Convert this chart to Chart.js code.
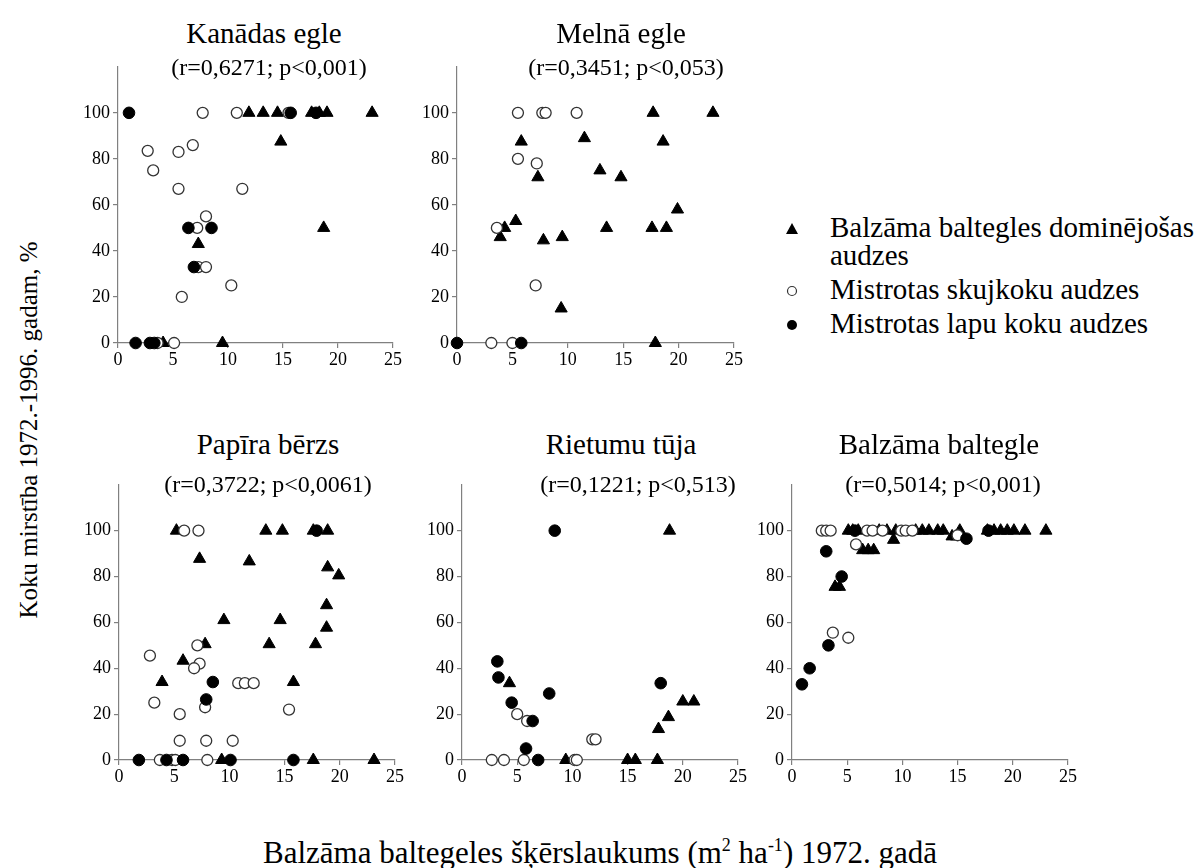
<!DOCTYPE html>
<html>
<head>
<meta charset="utf-8">
<script src="https://cdn.jsdelivr.net/npm/chart.js@4.4.0/dist/chart.umd.min.js"></script>
<style>
  body { margin: 0; background: #fff; }
  #wrap { position: relative; width: 1200px; height: 868px; overflow: hidden; font-family: 'Liberation Serif', 'Times New Roman', serif; color: #000; }
  canvas { position: absolute; }
  .txt { position: absolute; white-space: nowrap; transform: translate(-50%, -50%); line-height: 1; }
  .title { font-size: 29px; }
  .sub { font-size: 24px; }
  #legend { position: absolute; left: 780px; top: 213px; font-size: 29px; line-height: 28px; }
  #legend .row { position: relative; padding-left: 50px; margin-bottom: 6px; }
  #legend svg { position: absolute; left: 5px; top: 9px; }
</style>
</head>
<body>
<div id="wrap">
  <canvas id="c1"></canvas>
  <canvas id="c2"></canvas>
  <canvas id="c3"></canvas>
  <canvas id="c4"></canvas>
  <canvas id="c5"></canvas>

  <div class="txt title" style="left:264px; top:33px;">Kanādas egle</div>
  <div class="txt sub" style="left:269px; top:67px;">(r=0,6271; p&lt;0,001)</div>
  <div class="txt title" style="left:621px; top:33px;">Melnā egle</div>
  <div class="txt sub" style="left:626px; top:67px;">(r=0,3451; p&lt;0,053)</div>
  <div class="txt title" style="left:268px; top:444px;">Papīra bērzs</div>
  <div class="txt sub" style="left:268px; top:484px;">(r=0,3722; p&lt;0,0061)</div>
  <div class="txt title" style="left:621px; top:444px;">Rietumu tūja</div>
  <div class="txt sub" style="left:638px; top:484px;">(r=0,1221; p&lt;0,513)</div>
  <div class="txt title" style="left:939px; top:444px;">Balzāma baltegle</div>
  <div class="txt sub" style="left:943px; top:484px;">(r=0,5014; p&lt;0,001)</div>

  <div class="txt" style="left:28px; top:430px; font-size:25px; transform: translate(-50%, -50%) rotate(-90deg);">Koku mirstība 1972.-1996. gadam, %</div>
  <div class="txt" style="left:600px; top:852px; font-size:31px;">Balzāma baltegeles šķērslaukums (m<sup style="font-size:18px;">2</sup> ha<sup style="font-size:18px;">-1</sup>) 1972. gadā</div>

  <div id="legend">
    <div class="row"><svg width="14" height="14"><polygon points="7,1 13,12 1,12" fill="#000"/></svg>Balzāma baltegles dominējošas<br>audzes</div>
    <div class="row"><svg width="14" height="14"><circle cx="7" cy="7" r="4.5" fill="#fff" stroke="#333" stroke-width="1.2"/></svg>Mistrotas skujkoku audzes</div>
    <div class="row"><svg width="14" height="14"><circle cx="7" cy="7" r="5" fill="#000"/></svg>Mistrotas lapu koku audzes</div>
  </div>
</div>

<script>
// series names
const seriesNames = ['Balzāma baltegles dominējošas audzes', 'Mistrotas skujkoku audzes', 'Mistrotas lapu koku audzes'];

// axis ticks
const xTicks = [0, 5, 10, 15, 20, 25];
const yTicks = [0, 20, 40, 60, 80, 100];

// Kanādas egle
const kanTri = [[11.9,100],[13.2,100],[14.5,100],[14.8,87.5],[17.6,100],[18.3,100],[19.0,100],[23.1,100],[18.7,50],[7.3,43],[9.5,0],[4.1,0]];
const kanOpen = [[7.7,100],[10.8,100],[15.5,100],[2.7,83.5],[6.8,86],[5.5,83],[3.2,75],[5.5,67],[11.3,67],[8.0,55],[7.2,50],[7.3,33],[8.0,33],[10.3,25],[5.8,20],[5.1,0],[3.6,0]];
const kanFull = [[1.0,100],[1.6,0],[2.9,0],[3.3,0],[6.4,50],[8.5,50],[15.7,100],[18.0,100],[6.9,33]];

// Melnā egle
const melTri = [[17.7,100],[23.1,100],[5.8,87.5],[11.5,89],[18.6,87.5],[12.9,75],[14.8,72],[7.3,72],[19.9,58],[5.3,53],[4.3,50],[3.9,46],[7.8,44.6],[9.5,46],[13.5,50],[17.6,50],[18.9,50],[9.4,15],[17.9,0]];
const melOpen = [[5.5,100],[7.7,100],[8.0,100],[10.8,100],[5.5,80],[7.2,78],[3.6,50],[7.1,25],[3.1,0],[5.0,0]];
const melFull = [[0,0],[5.8,0]];

// Papīra bērzs
const papTri = [[5.2,100],[13.3,100],[14.8,100],[17.6,100],[18.9,100],[7.3,87.7],[11.8,86.6],[18.9,84],[19.9,80.5],[18.8,67.5],[9.5,61],[14.6,61],[18.8,57.7],[7.8,50.5],[13.6,50.5],[17.8,50.5],[5.8,43.3],[3.9,34],[15.8,34],[9.3,0],[17.6,0],[23.1,0]];
const papOpen = [[5.9,100],[7.2,100],[7.1,50],[7.3,42],[6.8,40],[2.8,45.5],[3.2,25],[5.5,20],[7.8,23],[10.8,33.5],[11.4,33.5],[12.2,33.5],[15.4,22],[5.5,8.4],[7.9,8.4],[10.3,8.4],[3.7,0],[4.8,0],[5.1,0],[8.0,0]];
const papFull = [[17.9,100],[1.8,0],[4.3,0],[5.8,0],[10.1,0],[15.8,0],[8.5,34],[7.9,26.4]];

// Rietumu tūja
const rieTri = [[18.8,100],[4.3,33.5],[9.4,0],[15.0,0],[15.7,0],[17.7,0],[17.8,13.5],[18.7,18.7],[20.0,25.5],[21.0,25.5]];
const rieOpen = [[5.0,20],[5.9,17],[11.8,9],[12.1,9],[2.7,0],[3.8,0],[5.6,0],[10.2,0],[10.4,0]];
const rieFull = [[8.4,100],[3.2,43],[3.3,36],[4.5,25],[7.9,29],[6.4,17],[5.8,5],[6.9,0],[18.0,33.5]];

// Balzāma baltegle
const balTri = [[3.9,75.5],[4.3,75.5],[6.4,91.5],[6.9,91.5],[7.4,91.5],[9.2,96],[14.5,97.5],[14.9,97.5],[5.1,100],[5.5,100],[6.0,100],[7.9,100],[8.6,100],[9.4,100],[11.2,100],[11.8,100],[12.4,100],[13.2,100],[13.7,100],[15.2,100],[17.7,100],[18.3,100],[18.9,100],[19.5,100],[20.1,100],[21.1,100],[23.0,100]];
const balOpen = [[2.7,100],[3.1,100],[3.5,100],[5.8,94],[6.8,100],[7.3,100],[8.2,100],[9.9,100],[10.3,100],[10.9,100],[15.0,98],[3.7,55.5],[5.1,53.3]];
const balFull = [[0.9,33],[1.6,40],[3.3,50],[3.1,91],[4.5,80],[15.8,96.5],[5.7,100],[17.8,100]];

const FONT = "'Liberation Serif', 'Times New Roman', serif";
const AXIS = '#808080';
const YW = 50, XH = 35, PT = 12, PR = 16;

Chart.defaults.font.family = FONT;
Chart.defaults.font.size = 18;
Chart.defaults.color = '#000';

function toPts(arr) {
    return arr.map(p => ({x: p[0], y: p[1]}));
}

function makePanel(id, x0, x25, yTop, y0, tri, open, full) {
    const canvas = document.getElementById(id);
    const w = Math.round(YW + (x25 - x0) + PR);
    const h = Math.round(PT + (y0 - yTop) + XH);
    canvas.width = w;
    canvas.height = h;
    canvas.style.width = w + 'px';
    canvas.style.height = h + 'px';
    canvas.style.left = Math.round(x0 - YW) + 'px';
    canvas.style.top = Math.round(yTop - PT) + 'px';

    new Chart(canvas, {
        type: 'scatter',
        data: {
            datasets: [
                {
                    label: seriesNames[2],
                    data: toPts(full),
                    pointStyle: 'circle',
                    pointRadius: 5.8,
                    backgroundColor: '#000',
                    borderColor: '#000',
                    borderWidth: 1,
                    clip: false
                },
                {
                    label: seriesNames[1],
                    data: toPts(open),
                    pointStyle: 'circle',
                    pointRadius: 5.5,
                    backgroundColor: '#fff',
                    borderColor: '#333',
                    borderWidth: 1.3,
                    clip: false
                },
                {
                    label: seriesNames[0],
                    data: toPts(tri),
                    pointStyle: 'triangle',
                    pointRadius: 7,
                    backgroundColor: '#000',
                    borderColor: '#000',
                    borderWidth: 1,
                    clip: false
                }
            ]
        },
        options: {
            responsive: false,
            animation: false,
            devicePixelRatio: 1,
            layout: { padding: { top: PT, right: PR, left: 0, bottom: 0 } },
            plugins: {
                legend: { display: false },
                tooltip: { enabled: false }
            },
            scales: {
                x: {
                    type: 'linear',
                    min: xTicks[0],
                    max: xTicks[xTicks.length - 1],
                    afterFit: function(scale) { scale.height = XH; },
                    afterBuildTicks: function(scale) { scale.ticks = xTicks.map(v => ({value: v})); },
                    border: { display: true, color: AXIS, width: 1.2 },
                    grid: { display: true, drawOnChartArea: false, drawTicks: true, tickLength: 5, color: AXIS, lineWidth: 1.2 },
                    ticks: { color: '#000', font: { family: FONT, size: 18 }, padding: 1, maxRotation: 0 }
                },
                y: {
                    type: 'linear',
                    min: 0,
                    max: 120,
                    afterFit: function(scale) { scale.width = YW; },
                    afterBuildTicks: function(scale) { scale.ticks = yTicks.map(v => ({value: v})); },
                    border: { display: true, color: AXIS, width: 1.2 },
                    grid: { display: true, drawOnChartArea: false, drawTicks: true, tickLength: 5, color: AXIS, lineWidth: 1.2 },
                    ticks: { color: '#000', font: { family: FONT, size: 18 }, padding: 3 }
                }
            }
        }
    });
}

makePanel('c1', 118, 393, 65, 343, kanTri, kanOpen, kanFull);
makePanel('c2', 456.5, 733, 65, 343, melTri, melOpen, melFull);
makePanel('c3', 119, 395, 483, 760, papTri, papOpen, papFull);
makePanel('c4', 461.5, 737.5, 483, 760, rieTri, rieOpen, rieFull);
makePanel('c5', 791.5, 1067, 483, 760, balTri, balOpen, balFull);
</script>
</body>
</html>
